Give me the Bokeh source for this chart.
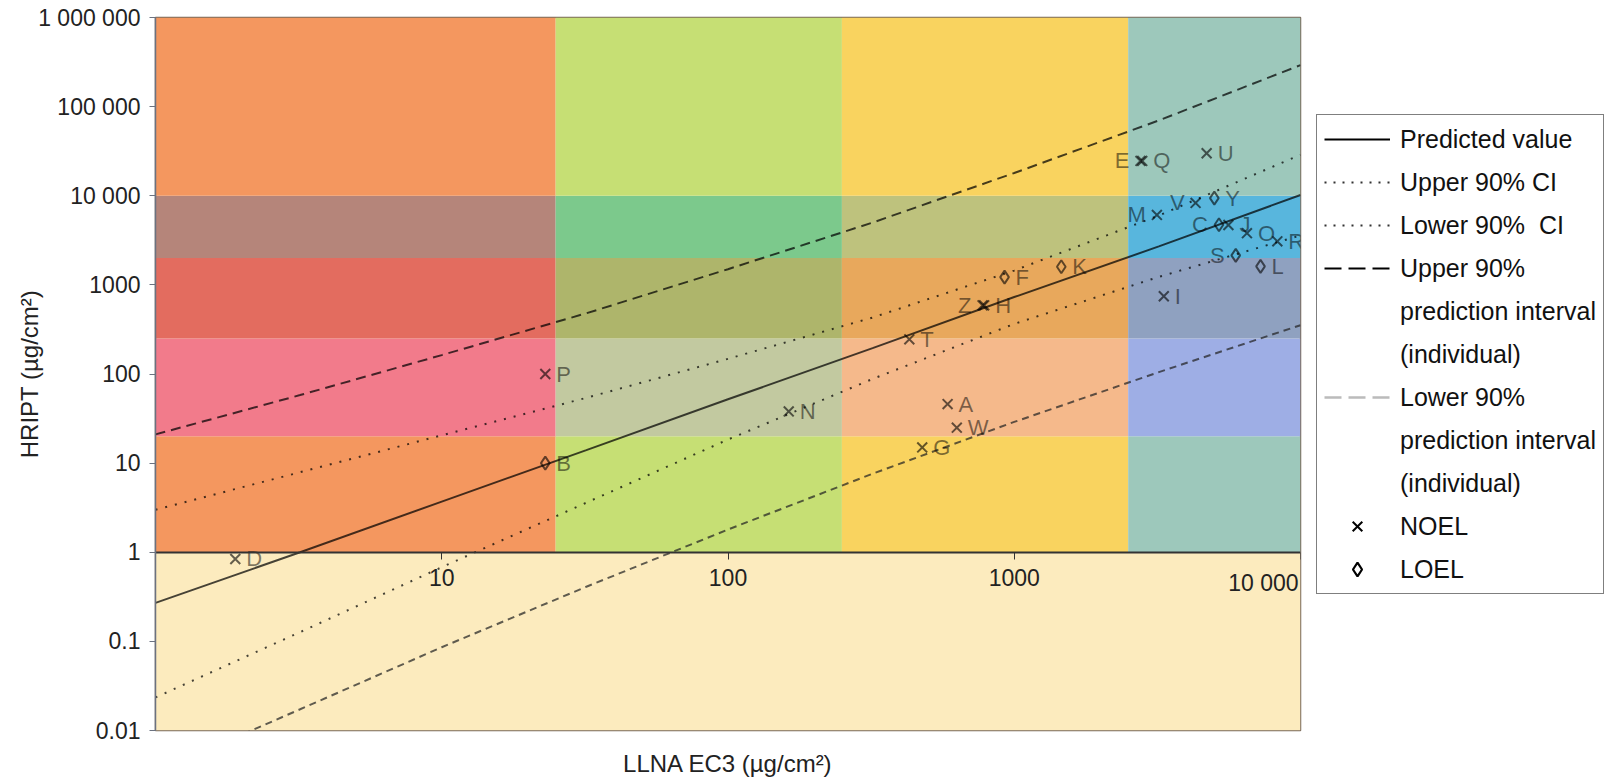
from bokeh.plotting import figure
from bokeh.layouts import row
from bokeh.models import ColumnDataSource, LogAxis, FixedTicker, Legend, LegendItem, Range1d
from bokeh.core.properties import value
from bokeh.embed import file_html
from bokeh.resources import INLINE

FONT = "Liberation Sans"

# ---------------- data ----------------
X_TICKS = [10, 100, 1000, 10000]
X_TICK_LABELS = ["10", "100", "1000", "10 000"]
Y_TICKS = [0.01, 0.1, 1, 10, 100, 1000, 10000, 100000, 1000000]
Y_TICK_LABELS = ["0.01", "0.1", "1", "10", "100", "1000", "10 000", "100 000", "1 000 000"]

# potency-category bands (x: LLNA EC3 classes, y: HRIPT classes)
BAND_X_EDGES = [1, 25, 250, 2500, 10000]
BAND_Y_EDGES = [1, 20, 250, 2000, 10000, 1000000]
BAND_COLORS = [  # rows bottom -> top, columns left -> right
    ["#F4975F", "#C6DF74", "#F9D35F", "#9DC8BB"],
    ["#F27B8B", "#C2C9A0", "#F5B98B", "#9EAEE5"],
    ["#E36C5F", "#AEB56B", "#E8A85C", "#8FA1C0"],
    ["#B5857A", "#7CC98C", "#BEC27D", "#58B6DD"],
    ["#F4975F", "#C6DF74", "#F9D35F", "#9DC8BB"],
]
LOW_ZONE_Y = [0.01, 1]
LOW_ZONE_COLOR = "#FCEBBE"

# regression curves
X_LINE = [1, 3.2, 10, 32, 100, 320, 1000, 3200, 10000]
PREDICTED = [0.27, 1.0, 3.7, 14, 52, 195, 730, 2700, 10200]
UPPER_CI = [3.0, 7.9, 20.5, 54, 148, 430, 1450, 6000, 28800]
LOWER_CI = [0.0235, 0.127, 0.68, 3.6, 18.4, 88, 365, 1230, 3590]
UPPER_PI = [21, 58, 163, 480, 1500, 5000, 18000, 70000, 292000]
LOWER_PI = [0.0034, 0.0173, 0.086, 0.41, 1.8, 7.6, 29, 105, 353]

# substances
NOEL_NAMES = ["A", "D", "E", "G", "H", "I", "J", "M", "N", "O", "P", "Q", "R", "T", "U", "V", "W", "Z"]
NOEL_X = [585, 1.9, 2760, 477, 785, 3330, 5600, 3150, 163, 6500, 23, 2800, 8300, 430, 4700, 4300, 630, 775]
NOEL_Y = [46, 0.84, 24600, 15, 590, 745, 4700, 6100, 38, 3800, 100, 24600, 3080, 245, 30000, 8300, 25, 590]
LOEL_NAMES = ["B", "C", "F", "K", "L", "S", "Y"]
LOEL_X = [23, 5190, 925, 1460, 7250, 5940, 5000]
LOEL_Y = [10, 4720, 1220, 1600, 1615, 2145, 9400]

# labels written on the left of their marker (style)
LEFT_LABELED = {"C", "E", "M", "S", "V", "Z"}

# legend entries (each text line of the legend)
LEGEND_LINES = [
    ["Predicted value"],
    ["Upper 90% CI"],
    ["Lower 90%  CI"],
    ["Upper 90%", "prediction interval", "(individual)"],
    ["Lower 90%", "prediction interval", "(individual)"],
    ["NOEL"],
    ["LOEL"],
]

# ---------------- main figure ----------------
p = figure(width=1316, height=779, x_axis_type="log", y_axis_type="log",
           x_range=Range1d(BAND_X_EDGES[0], BAND_X_EDGES[-1]),
           y_range=Range1d(Y_TICKS[0], Y_TICKS[-1]),
           output_backend="svg", toolbar_location=None,
           min_border_left=155, min_border_top=17, min_border_right=16, min_border_bottom=47)
p.grid.visible = False
p.background_fill_color = "white"
p.border_fill_color = "white"
p.outline_line_color = "#7a6a5a"
p.outline_line_width = 1.5

# bands
L, R, B, T, C = [], [], [], [], []
for i in range(len(BAND_Y_EDGES) - 1):
    for j in range(len(BAND_X_EDGES) - 1):
        L.append(BAND_X_EDGES[j]); R.append(BAND_X_EDGES[j + 1])
        B.append(BAND_Y_EDGES[i]); T.append(BAND_Y_EDGES[i + 1])
        C.append(BAND_COLORS[i][j])
L.append(BAND_X_EDGES[0]); R.append(BAND_X_EDGES[-1])
B.append(LOW_ZONE_Y[0]); T.append(LOW_ZONE_Y[1]); C.append(LOW_ZONE_COLOR)
p.quad(left="l", right="r", bottom="b", top="t", fill_color="c", line_color=None,
       source=ColumnDataSource(dict(l=L, r=R, b=B, t=T, c=C)))

# curves
LA = 0.72
p.line(X_LINE, PREDICTED, line_color="black", line_width=2, line_alpha=LA)
p.line(X_LINE, UPPER_CI, line_color="black", line_width=2, line_alpha=LA, line_dash="2 8")
p.line(X_LINE, LOWER_CI, line_color="black", line_width=2, line_alpha=LA, line_dash="2 8")
p.line(X_LINE, UPPER_PI, line_color="black", line_width=2, line_alpha=LA, line_dash="10 6")
p.line(X_LINE, LOWER_PI, line_color="#222222", line_width=2, line_alpha=LA, line_dash="7 5")

# markers
MA = 0.6
p.scatter(NOEL_X, NOEL_Y, marker="x", size=14, line_width=2, line_color="black", line_alpha=MA)
p.scatter(LOEL_X, LOEL_Y, marker="diamond", size=13, line_width=2, line_color="black",
          line_alpha=MA, fill_color=None)

# point labels
names = NOEL_NAMES + LOEL_NAMES
xs = NOEL_X + LOEL_X
ys = NOEL_Y + LOEL_Y
right = dict(x=[], y=[], t=[])
left = dict(x=[], y=[], t=[])
for n, x, y in zip(names, xs, ys):
    d = left if n in LEFT_LABELED else right
    d["x"].append(x); d["y"].append(y); d["t"].append(n)
TA = 0.5
p.text(x="x", y="y", text="t", source=ColumnDataSource(right), x_offset=11,
       text_align="left", text_baseline="middle", text_font=value(FONT),
       text_font_size="22px", text_color="black", text_alpha=TA)
p.text(x="x", y="y", text="t", source=ColumnDataSource(left), x_offset=-11,
       text_align="right", text_baseline="middle", text_font=value(FONT),
       text_font_size="22px", text_color="black", text_alpha=TA)

# ---------------- axes ----------------
yax = p.yaxis[0]
yax.ticker = FixedTicker(ticks=Y_TICKS)
yax.major_label_overrides = dict(zip(Y_TICKS, Y_TICK_LABELS))
yax.minor_tick_line_color = None
yax.major_tick_out = 6
yax.major_tick_in = 0
yax.major_label_standoff = 9
yax.major_label_text_font = FONT
yax.major_label_text_font_size = "23px"
yax.major_label_text_color = "#222222"
yax.axis_line_color = "#6b7280"
yax.axis_line_width = 1.5
yax.major_tick_line_color = "#6b7280"
yax.axis_label = "HRIPT (µg/cm²)"
yax.axis_label_text_font = FONT
yax.axis_label_text_font_size = "24px"
yax.axis_label_text_font_style = "normal"
yax.axis_label_text_color = "#222222"
yax.axis_label_standoff = -8

# x axis crossing at y = 1
xax = p.xaxis[0]
xax.fixed_location = 1
xax.ticker = FixedTicker(ticks=X_TICKS)
ov = dict(zip(X_TICKS, X_TICK_LABELS))
ov[X_TICKS[-1]] = ""
xax.major_label_overrides = ov
xax.minor_tick_line_color = None
xax.major_tick_out = 7
xax.major_tick_in = 0
xax.major_label_standoff = 10
xax.major_label_text_font = FONT
xax.major_label_text_font_size = "23px"
xax.major_label_text_color = "#222222"
xax.axis_line_color = "#333333"
xax.axis_line_width = 2
xax.major_tick_line_color = "#333333"

# last x tick label sits right-aligned at the frame edge
p.text(x=[X_TICKS[-1]], y=[1], text=[X_TICK_LABELS[-1]], x_offset=-2, y_offset=18,
       text_align="right", text_baseline="top", text_font=value(FONT),
       text_font_size="23px", text_color="#222222")

# x-axis title at the bottom
tax = LogAxis(ticker=FixedTicker(ticks=[]), axis_label="LLNA EC3 (µg/cm²)")
tax.axis_line_color = None
tax.major_tick_line_color = None
tax.minor_tick_line_color = None
tax.major_tick_out = 0
tax.minor_tick_out = 0
tax.axis_label_text_font = FONT
tax.axis_label_text_font_size = "24px"
tax.axis_label_text_font_style = "normal"
tax.axis_label_text_color = "#222222"
tax.axis_label_standoff = 19
p.add_layout(tax, "below")

# ---------------- legend panel ----------------
q = figure(width=295, height=779, x_range=Range1d(0, 1), y_range=Range1d(0, 1),
           output_backend="svg", toolbar_location=None,
           min_border=0, x_axis_location=None, y_axis_location=None)
q.grid.visible = False
q.outline_line_color = None
q.background_fill_color = "white"
q.border_fill_color = "white"

OFF = [-5, -4]  # legend-only renderers, kept outside the visible ranges
lg_glyphs = [
    q.line(OFF, OFF, line_color="black", line_width=2),
    q.line(OFF, OFF, line_color="#333333", line_width=2, line_dash="2 7"),
    q.line(OFF, OFF, line_color="#333333", line_width=2, line_dash="2 7"),
    q.line(OFF, OFF, line_color="black", line_width=2, line_dash="17 7"),
    q.line(OFF, OFF, line_color="#bbbbbb", line_width=2.5, line_dash="17 7"),
    q.scatter(OFF, OFF, marker="x", size=12, line_width=2, line_color="black"),
    q.scatter(OFF, OFF, marker="diamond", size=11, line_width=2.2, line_color="black",
              fill_color=None),
]
lg_blank = q.line(OFF, OFF, line_alpha=0)

items = []
for lines, g in zip(LEGEND_LINES, lg_glyphs):
    items.append(LegendItem(label=lines[0], renderers=[g]))
    for extra in lines[1:]:
        items.append(LegendItem(label=extra, renderers=[lg_blank]))

legend = Legend(items=items, location=(0, 136), margin=0, padding=7, spacing=9,
                glyph_width=66, glyph_height=34, label_height=34, label_standoff=10,
                label_text_font=FONT, label_text_font_size="25px",
                label_text_color="#111111",
                border_line_color="black", border_line_width=1.5,
                background_fill_color="white", background_fill_alpha=1.0)
q.add_layout(legend)

open("out.html", "w").write(file_html(row(p, q), INLINE))
